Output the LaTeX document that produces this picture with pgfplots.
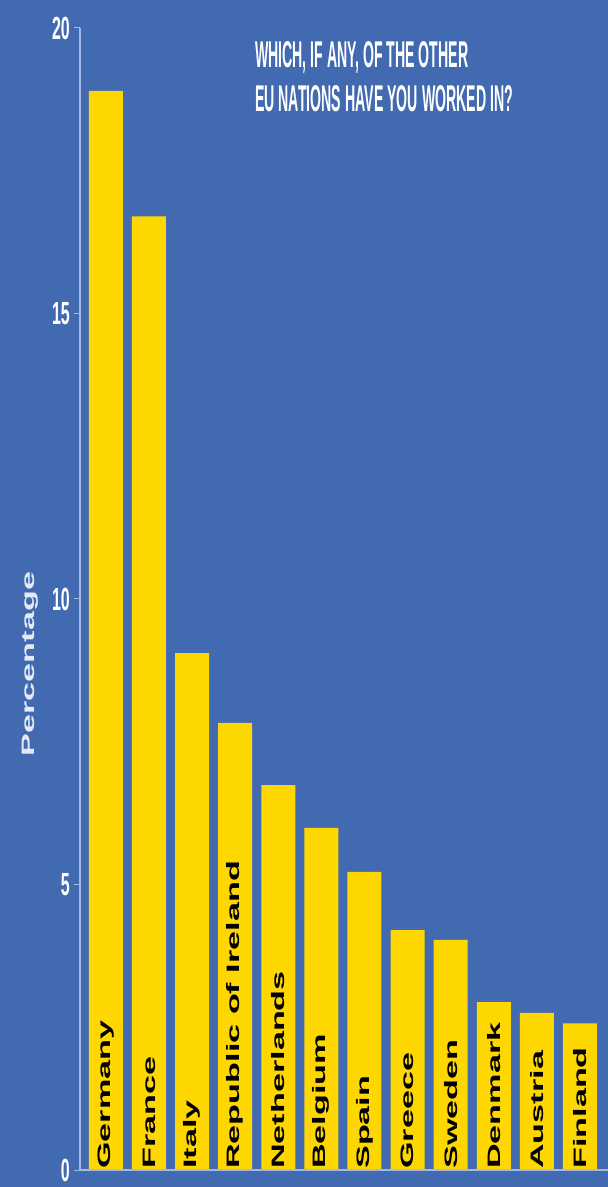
\documentclass[border=0pt]{standalone}
\usepackage{pgfplots}
\pgfplotsset{compat=1.18}
\usepackage{fontspec}
\setmainfont{Liberation Sans}
\definecolor{bgblue}{RGB}{66,106,177}
\definecolor{baryellow}{RGB}{255,215,0}
\definecolor{axisblue}{RGB}{165,185,230}
\newcommand\barlab[1]{\scalebox{1}[1.9]{\rotatebox{90}{\fontsize{18}{18}\selectfont\bfseries #1}}}

\begin{document}
\begin{tikzpicture}[x=1pt,y=1pt]
\fill[bgblue] (0,0) rectangle (608,1187);
\begin{axis}[
    at={(80pt,17pt)}, anchor=south west,
    scale only axis, width=528pt, height=1142pt,
    xmin=-0.6, xmax=11.65, ymin=0, ymax=20,
    axis lines=left,
    axis line style={-, axisblue, line width=1.5pt},
    axis on top,
    clip=false,
    ybar, bar width=34pt,
    xtick={0,...,11},
    xticklabels={\barlab{Germany},\barlab{France},\barlab{Italy},\barlab{Republic of Ireland},\barlab{Netherlands},\barlab{Belgium},\barlab{Spain},\barlab{Greece},\barlab{Sweden},\barlab{Denmark},\barlab{Austria},\barlab{Finland}},
    xtick style={draw=none},
    xticklabel style={anchor=south, inner sep=0pt, yshift=7pt, text=black},
    ytick={0,5,10,15,20},
    ytick style={axisblue, line width=1pt},
    tick align=outside, major tick length=6pt,
    /pgf/number format/assume math mode=true,
    yticklabel={\scalebox{1}[2]{\fontsize{16}{16}\selectfont\bfseries\pgfmathprintnumber{\tick}}},
    yticklabel style={text=white, inner sep=0pt, xshift=-4pt},
]
\addplot[fill=baryellow, draw=none] coordinates {
    (0,18.9) (1,16.7) (2,9.05) (3,7.83) (4,6.74) (5,5.99)
    (6,5.22) (7,4.2) (8,4.03) (9,2.94) (10,2.75) (11,2.57)};
\end{axis}
\node[rotate=90, text={rgb,255:red,228;green,233;blue,243}] at (30,523)
    {\scalebox{1.9}[1]{\fontsize{18}{18}\selectfont\bfseries Percentage}};
\node[anchor=base west, inner sep=0pt, text=white] at (255,1119)
    {\resizebox{213pt}{26pt}{\bfseries WHICH, IF ANY, OF THE OTHER}};
\node[anchor=base west, inner sep=0pt, text=white] at (255,1075)
    {\resizebox{258pt}{26pt}{\bfseries EU NATIONS HAVE YOU WORKED IN?}};
\pgfresetboundingbox
\path (0,0) rectangle (608,1187);
\end{tikzpicture}
\end{document}
